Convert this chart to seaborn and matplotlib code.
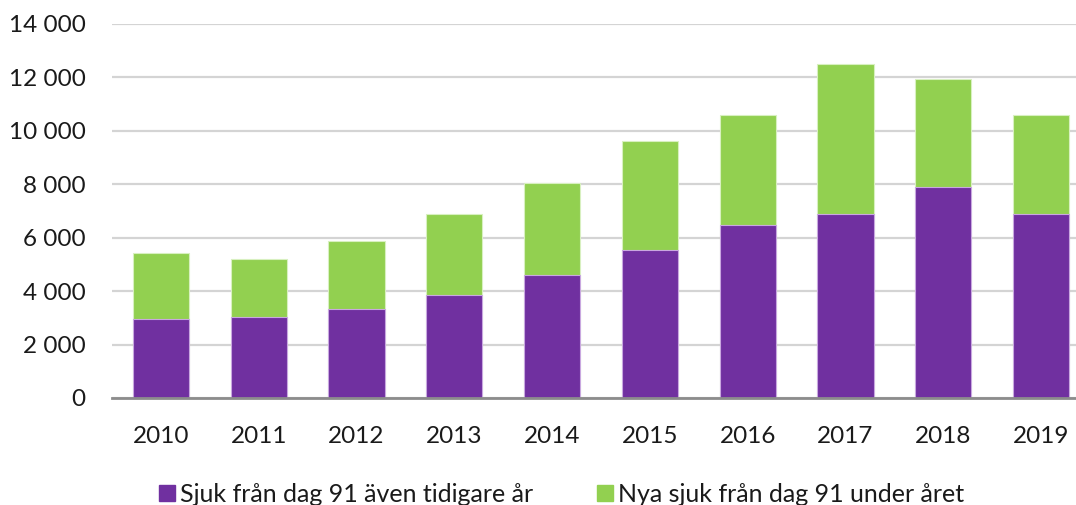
import matplotlib
matplotlib.use("Agg")
import matplotlib.pyplot as plt
from matplotlib.lines import Line2D
import seaborn as sns
import pandas as pd

years = ["2010", "2011", "2012", "2013", "2014", "2015", "2016", "2017", "2018", "2019"]
earlier = [2950, 3050, 3350, 3840, 4590, 5530, 6490, 6880, 7890, 6880]
new_year = [2480, 2140, 2530, 3030, 3450, 4080, 4110, 5620, 4060, 3720]
series_names = ["Sjuk från dag 91 även tidigare år", "Nya sjuk från dag 91 under året"]
yticks = [0, 2000, 4000, 6000, 8000, 10000, 12000, 14000]

PURPLE = "#7030A0"
GREEN = "#92D050"

df = pd.DataFrame({"year": years, "earlier": earlier, "new": new_year})
df["total"] = df["earlier"] + df["new"]

sns.set_theme(style="white")
plt.rcParams["font.family"] = ["Lato", "DejaVu Sans"]

fig = plt.figure(figsize=(10.76, 5.05), dpi=100)
ax = fig.add_axes([112 / 1076, 1 - 398 / 505, 978 / 1076, (398 - 24) / 505])

sns.barplot(data=df, x="year", y="total", color=GREEN, saturation=1, width=0.575,
            edgecolor="#d8f0c0", linewidth=0.8, ax=ax, zorder=3)
sns.barplot(data=df, x="year", y="earlier", color=PURPLE, saturation=1, width=0.575,
            edgecolor="#c9a8e0", linewidth=0.8, ax=ax, zorder=4)

ax.set_xlim(-0.5, 9.5)
ax.set_ylim(0, 14000)
ax.set_yticks(yticks)
ax.set_yticklabels([f"{v:,}".replace(",", " ") for v in yticks])
ax.set_xlabel("")
ax.set_ylabel("")
for s in ["left", "right", "top"]:
    ax.spines[s].set_visible(False)
ax.spines["bottom"].set_color("#8c8c8c")
ax.spines["bottom"].set_linewidth(2)
ax.spines["bottom"].set_zorder(6)
ax.yaxis.grid(True, color="#d4d4d4", linewidth=1.6, zorder=0)
ax.set_axisbelow(True)
ax.tick_params(axis="y", length=0, pad=19, labelsize=17.5, labelcolor="#1a1a1a")
ax.tick_params(axis="x", length=0, pad=20, labelsize=17.5, labelcolor="#1a1a1a")

handles = [
    Line2D([], [], marker="s", linestyle="none", markersize=12, color=PURPLE),
    Line2D([], [], marker="s", linestyle="none", markersize=12, color=GREEN),
]
fig.legend(handles, series_names, loc="center", bbox_to_anchor=(560 / 1076, 1 - 494 / 505),
           ncol=2, frameon=False, fontsize=18, handletextpad=0.1, columnspacing=2.4,
           handlelength=0.9, labelcolor="#1a1a1a")

fig.savefig("out.png", dpi=100)
